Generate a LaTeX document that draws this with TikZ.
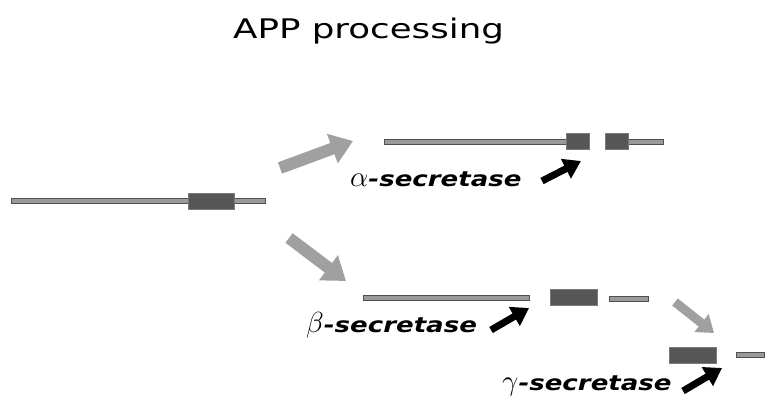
\documentclass[tikz,border=0pt]{standalone}
\usepackage{fontspec}
\setsansfont{DejaVu Sans}
\usetikzlibrary{arrows.meta}

\definecolor{barfill}{HTML}{9A9A9A}
\definecolor{barline}{HTML}{505050}
\definecolor{boxfill}{HTML}{565656}
\definecolor{boxline}{HTML}{7A7A7A}
\definecolor{bigarrow}{HTML}{A0A0A0}

\tikzset{
  bar/.style={rectangle, draw=barline, fill=barfill, line width=0.8pt,
    inner sep=0pt, minimum height=5pt},
  abox/.style={rectangle, draw=boxline, fill=boxfill, line width=1pt,
    inner sep=0pt, minimum height=16pt},
  pathway/.style={line width=12pt, draw=bigarrow,
    -{Triangle[width=30pt,length=22pt]}},
  smallpathway/.style={line width=9pt, draw=bigarrow,
    -{Triangle[width=22pt,length=16pt]}},
  cut/.style={line width=7pt, draw=black,
    -{Triangle[width=21pt,length=17pt]}},
  enzyme/.style={font=\sffamily\bfseries\itshape\fontsize{21}{24}\selectfont,
    anchor=base west, inner sep=0pt},
}

\newcommand{\stretchtext}[2][1.2]{\scalebox{#1}[1]{#2}}
\newcommand{\greek}[1]{\scalebox{1.4}{$#1$}}

\begin{document}
\begin{tikzpicture}[x=1pt, y=-1pt]
\useasboundingbox (0,0) rectangle (765,396);

% title
\node[font=\sffamily\fontsize{27}{32}\selectfont, anchor=base west, inner sep=0pt]
  (title) at (233,38) {\stretchtext[1.32]{APP processing}};

% full-length precursor
\node[bar, minimum width=254pt] (app) at (138,201) {};
\node[abox, minimum width=46pt] (abeta) at (211,201) {};

% alpha-secretase products
\node[bar, minimum width=182pt] (alphaN) at (475,142) {};
\node[bar, minimum width=35pt] (alphaC) at (645.5,142) {};
\node[abox, minimum width=23pt] (alphaA) at (577.5,141) {};
\node[abox, minimum width=23pt] (alphaB) at (616.5,141) {};

% beta-secretase products
\node[bar, minimum width=166pt] (betaN) at (446,297.5) {};
\node[abox, minimum width=47pt] (betaA) at (573.5,297) {};
\node[bar, minimum width=39pt] (betaC) at (628.5,298.5) {};

% gamma-secretase products
\node[abox, minimum width=47pt] (gammaA) at (692.5,355) {};
\node[bar, minimum width=28pt] (gammaC) at (750.5,354.5) {};

% pathway arrows
\coordinate (p1s) at (280,168);
\coordinate (p1e) at (353,141);
\coordinate (p2s) at (289,238);
\coordinate (p2e) at (346,281);
\coordinate (p3s) at (675,302);
\coordinate (p3e) at (714,333);
\draw[pathway] (p1s) -- (p1e);
\draw[pathway] (p2s) -- (p2e);
\draw[smallpathway] (p3s) -- (p3e);

% enzyme labels
\node[enzyme] (alab) at (350,186) {\greek{\alpha}\stretchtext[1.24]{-secretase}};
\node[enzyme] (blab) at (306,332) {\greek{\beta}\stretchtext[1.24]{-secretase}};
\node[enzyme] (glab) at (502,390) {\greek{\gamma}\stretchtext[1.24]{-secretase}};

% cleavage-site arrows
\coordinate (c1s) at (542,181);
\coordinate (c1e) at (581,161);
\coordinate (c2s) at (491,330);
\coordinate (c2e) at (529,308);
\coordinate (c3s) at (683,391);
\coordinate (c3e) at (722,368);
\draw[cut] (c1s) -- (c1e);
\draw[cut] (c2s) -- (c2e);
\draw[cut] (c3s) -- (c3e);
\end{tikzpicture}
\end{document}
